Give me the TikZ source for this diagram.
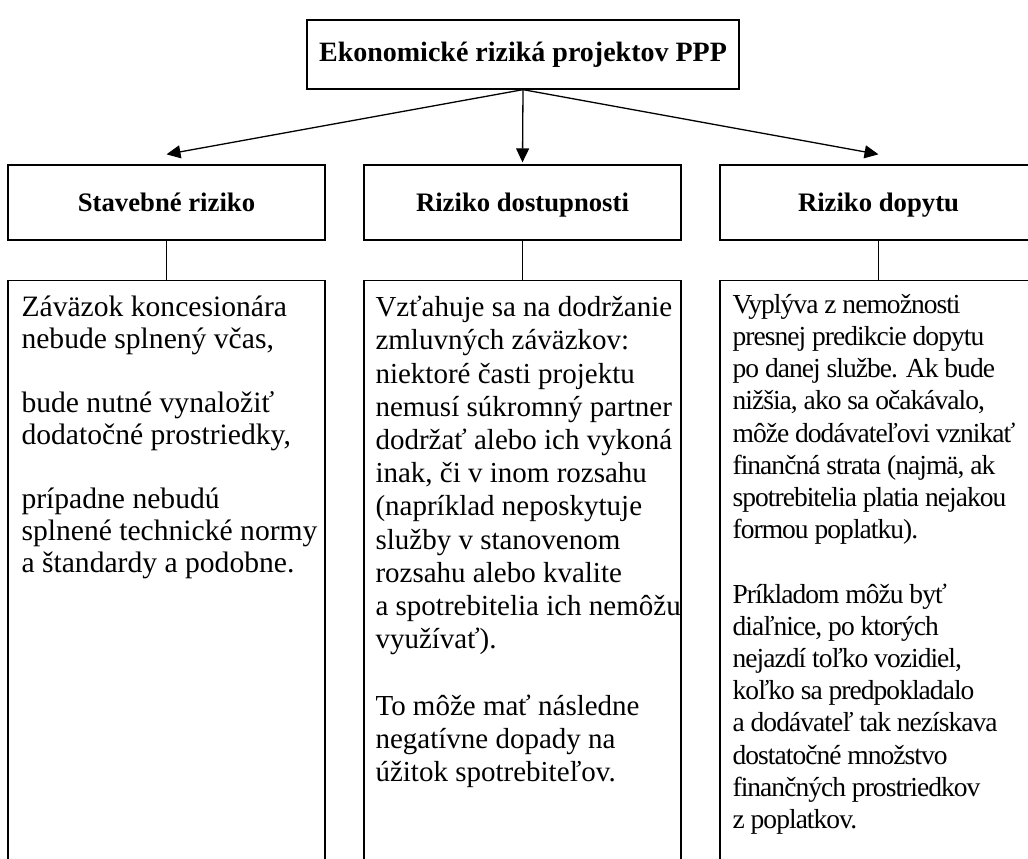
\documentclass[tikz,border=0pt]{standalone}
\usepackage{fontspec}
\setmainfont{Liberation Serif}
\newfontfamily\condensedserif[LetterSpace=-3.5]{Liberation Serif}
\usetikzlibrary{arrows.meta,calc}
\begin{document}
\begin{tikzpicture}[x=1bp,y=-1bp,
  box/.style={draw, line width=1.3bp, rectangle, inner sep=0pt},
  titlebox/.style={box, minimum width=432bp, minimum height=69bp,
    text height=19bp, text depth=6bp,
    font=\fontsize{28bp}{32bp}\selectfont\bfseries},
  hdr/.style={box, minimum width=317bp, minimum height=75bp,
    text height=20bp, text depth=3bp,
    font=\fontsize{26.7bp}{30bp}\selectfont\bfseries},
  body/.style={box, minimum width=317bp, minimum height=640bp, anchor=north},
  bodytext/.style={inner sep=0pt, anchor=north west, align=left},
  arr/.style={line width=1.3bp, -{Triangle[length=14bp,width=13bp]}},
  conn/.style={line width=1.3bp}
]
\useasboundingbox (0,0) rectangle (1028,859);
\clip (0,0) rectangle (1028,859);
\fill[white] (0,0) rectangle (1028,859);

\node[titlebox] (top) at (523,54.5) {Ekonomické riziká projektov PPP};

\node[hdr] (h1) at (166.5,202.5) {Stavebné riziko};
\node[hdr] (h2) at (522.5,202.5) {Riziko dostupnosti};
\node[hdr] (h3) at (878.5,202.5) {Riziko dopytu};

\coordinate (a1) at ($(h1.north)+(0,-10)$);
\coordinate (a2) at ($(h2.north)+(0,-2)$);
\coordinate (a3) at ($(h3.north)+(0,-10)$);
\draw[arr] (top.south) -- (a1);
\draw[arr] (top.south) -- (a2);
\draw[arr] (top.south) -- (a3);

\node[body] (b1) at (166.5,280) {};
\node[body] (b2) at (522.5,280) {};
\node[body] (b3) at (878.5,280) {};

\draw[conn] (h1.south) -- (b1.north);
\draw[conn] (h2.south) -- (b2.north);
\draw[conn] (h3.south) -- (b3.north);

\node[bodytext, font=\fontsize{29.6bp}{32bp}\selectfont] (t1) at ($(b1.north west)+(14,16)$) {Záväzok koncesionára\\
nebude splnený včas,\\[32bp]
bude nutné vynaložiť\\
dodatočné prostriedky,\\[32bp]
prípadne nebudú\\
splnené technické normy\\
a~štandardy a podobne.};

\node[bodytext, font=\fontsize{29bp}{33.2bp}\selectfont] (t2) at ($(b2.north west)+(12,16)$) {Vzťahuje sa na dodržanie\\
zmluvných záväzkov:\\
niektoré časti projektu\\
nemusí súkromný partner\\
dodržať alebo ich vykoná\\
inak, či v inom rozsahu\\
(napríklad neposkytuje\\
služby v stanovenom\\
rozsahu alebo kvalite\\
a~spotrebitelia ich nemôžu\\
využívať).\\[33.2bp]
To môže mať následne\\
negatívne dopady na\\
úžitok spotrebiteľov.};

\node[bodytext, font=\condensedserif\fontsize{27.5bp}{32.2bp}\selectfont] (t3) at ($(b3.north west)+(13,14)$) {Vyplýva z nemožnosti\\
presnej predikcie dopytu\\
po danej službe. Ak bude\\
nižšia, ako sa očakávalo,\\
môže dodávateľovi vznikať\\
finančná strata (najmä, ak\\
spotrebitelia platia nejakou\\
formou poplatku).\\[32.2bp]
Príkladom môžu byť\\
diaľnice, po ktorých\\
nejazdí toľko vozidiel,\\
koľko sa predpokladalo\\
a~dodávateľ tak nezískava\\
dostatočné množstvo\\
finančných prostriedkov\\
z~poplatkov.};
\end{tikzpicture}
\end{document}
